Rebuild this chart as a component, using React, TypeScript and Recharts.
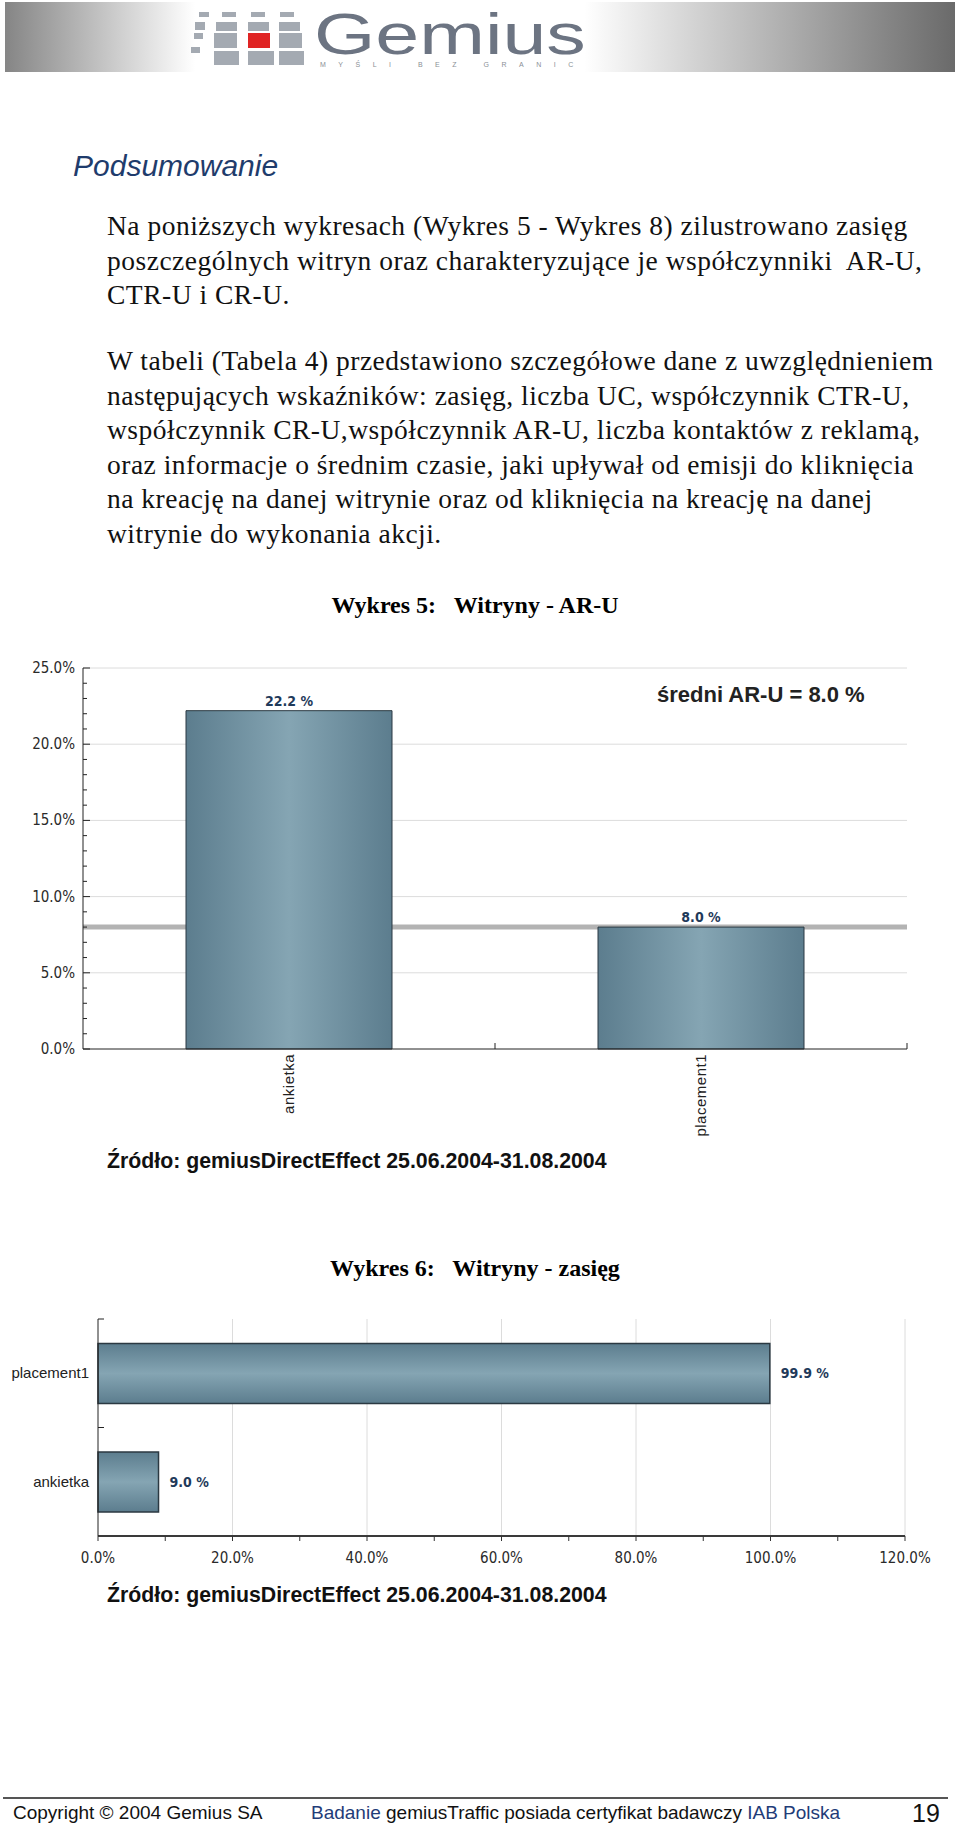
import React from 'react';
import { BarChart, Bar, XAxis, YAxis, CartesianGrid, LabelList } from 'recharts';

// Wykres 5: Witryny - AR-U
const aruSites = ['ankietka', 'placement1'];
const aruValues = [22.2, 8.0];
const aruAverage = 8.0;
const aruMajorTicks = [0, 5, 10, 15, 20, 25];
const aruMinorTicks = [1, 2, 3, 4, 6, 7, 8, 9, 11, 12, 13, 14, 16, 17, 18, 19, 21, 22, 23, 24];

// Wykres 6: Witryny - zasięg
const reachSites = ['placement1', 'ankietka'];
const reachValues = [99.9, 9.0];
const reachMajorTicks = [0, 20, 40, 60, 80, 100, 120];
const reachMinorTicks = [10, 30, 50, 70, 90, 110];

const aruData = aruSites.map((site, i) => ({ site, value: aruValues[i] }));
const reachData = reachSites.map((site, i) => ({ site, value: reachValues[i] }));

const para1 = [
  'Na poniższych wykresach (Wykres 5 - Wykres 8) zilustrowano zasięg',
  'poszczególnych witryn oraz charakteryzujące je współczynniki  AR-U,',
  'CTR-U i CR-U.',
];
const para2 = [
  'W tabeli (Tabela 4) przedstawiono szczegółowe dane z uwzględnieniem',
  'następujących wskaźników: zasięg, liczba UC, współczynnik CTR-U,',
  'współczynnik CR-U,współczynnik AR-U, liczba kontaktów z reklamą,',
  'oraz informacje o średnim czasie, jaki upływał od emisji do kliknięcia',
  'na kreację na danej witrynie oraz od kliknięcia na kreację na danej',
  'witrynie do wykonania akcji.',
];
const sourceText = 'Źródło: gemiusDirectEffect 25.06.2004-31.08.2004';

const SERIF = '"Liberation Serif", "Times New Roman", serif';
const SANS = '"Liberation Sans", Arial, sans-serif';
const COND = '"DejaVu Sans Condensed", "DejaVu Sans", sans-serif';
const LABEL_BLUE = '#1f3a5a';

const pct = (v: number) => `${v.toFixed(1)}%`;
const pctSp = (v: number) => `${Number(v).toFixed(1)} %`;

// logo blocks [x, y, w, h]
const logoBlocks = [
  [199, 12, 10, 5], [222, 12, 14, 5], [251, 12, 14, 5], [280, 12, 14, 5],
  [195, 22, 10, 8], [216, 22, 21, 9], [248, 22, 21, 9], [279, 22, 21, 9],
  [194, 33, 9, 6], [214, 33, 23, 15], [279, 33, 23, 15],
  [191, 47, 9, 6], [214, 51, 25, 14], [248, 51, 26, 14], [279, 51, 25, 14],
];

function AruYTick(props: any) {
  const { x, y, payload } = props;
  const major = payload.value % 5 === 0;
  return (
    <g>
      <line x1={x} x2={x + (major ? 7 : 4)} y1={y} y2={y} stroke="#222" />
      {major && (
        <text x={x - 8} y={y} dy={5} textAnchor="end" fill="#2a2a2a" fontSize={15} fontFamily={COND}>
          {pct(payload.value)}
        </text>
      )}
    </g>
  );
}

function AruXTick(props: any) {
  const { x, y, payload } = props;
  const edge = x + (payload.offset ?? 0);
  return (
    <g>
      <line x1={edge} x2={edge} y1={y} y2={y - 6} stroke="#222" />
      <text
        transform={`translate(${x},${y + 5}) rotate(-90)`}
        dy={5}
        textAnchor="end"
        fill="#222"
        fontSize={15}
        fontFamily={SANS}
        letterSpacing={0.5}
      >
        {payload.value}
      </text>
    </g>
  );
}

function ReachXTick(props: any) {
  const { x, y, payload } = props;
  const major = payload.value % 20 === 0;
  return (
    <g>
      <line x1={x} x2={x} y1={y} y2={y + 5} stroke="#333" />
      {major && (
        <text x={x} y={y + 27} textAnchor="middle" fill="#2a2a2a" fontSize={15} fontFamily={COND}>
          {pct(payload.value)}
        </text>
      )}
    </g>
  );
}

function ReachYTick(props: any) {
  const { x, y, payload } = props;
  const edge = y - (payload.offset ?? 0);
  return (
    <g>
      <line x1={x} x2={x + 6} y1={edge} y2={edge} stroke="#222" />
      <text x={x - 9} y={y} dy={5} textAnchor="end" fill="#222" fontSize={15} fontFamily={SANS}>
        {payload.value}
      </text>
    </g>
  );
}

function AruChart() {
  return (
    <BarChart
      width={960}
      height={520}
      data={aruData}
      margin={{ top: 28, right: 53, bottom: 41, left: 0 }}
      barCategoryGap="25%"
    >
      <defs>
        <linearGradient id="aruFill" x1="0" y1="0" x2="1" y2="0">
          <stop offset="0%" stopColor="#5c7d8e" />
          <stop offset="50%" stopColor="#85a5b3" />
          <stop offset="100%" stopColor="#5c7d8e" />
        </linearGradient>
      </defs>
      <CartesianGrid vertical={false} horizontalValues={aruMajorTicks.slice(1)} stroke="#dcdcdc" />
      {/* average line, kept in the grid layer so the bars cover it */}
      <CartesianGrid vertical={false} horizontalValues={[aruAverage]} stroke="#b3b3b3" strokeWidth={5} />
      <XAxis
        dataKey="site"
        type="category"
        height={70}
        interval={0}
        tickSize={0}
        tickMargin={0}
        tickLine={false}
        axisLine={{ stroke: '#222' }}
        tick={(p: any) => <AruXTick {...p} />}
      />
      <YAxis
        type="number"
        domain={[0, 25]}
        ticks={[...aruMajorTicks, ...aruMinorTicks].sort((a, b) => a - b)}
        interval={0}
        width={83}
        tickSize={0}
        tickMargin={0}
        tickLine={false}
        axisLine={{ stroke: '#222' }}
        tick={(p: any) => <AruYTick {...p} />}
      />
      <Bar dataKey="value" fill="url(#aruFill)" stroke="#2b3942" strokeWidth={1} isAnimationActive={false}>
        <LabelList
          dataKey="value"
          position="top"
          offset={5}
          formatter={(v: any) => pctSp(v)}
          fill={LABEL_BLUE}
          fontSize={14}
          fontWeight="bold"
          fontFamily={COND}
        />
      </Bar>
    </BarChart>
  );
}

function ReachChart() {
  return (
    <BarChart
      width={960}
      height={290}
      data={reachData}
      layout="vertical"
      margin={{ top: 29, right: 55, bottom: 4, left: 0 }}
      barCategoryGap="22.5%"
    >
      <defs>
        <linearGradient id="reachFill" x1="0" y1="0" x2="0" y2="1">
          <stop offset="0%" stopColor="#5c7d8e" />
          <stop offset="50%" stopColor="#85a5b3" />
          <stop offset="100%" stopColor="#5c7d8e" />
        </linearGradient>
      </defs>
      <CartesianGrid horizontal={false} verticalValues={reachMajorTicks.slice(1)} stroke="#dcdcdc" />
      <XAxis
        type="number"
        domain={[0, 120]}
        ticks={[...reachMajorTicks, ...reachMinorTicks].sort((a, b) => a - b)}
        interval={0}
        height={40}
        tickSize={0}
        tickMargin={0}
        tickLine={false}
        axisLine={{ stroke: '#3a3a3a', strokeWidth: 2 }}
        tick={(p: any) => <ReachXTick {...p} />}
      />
      <YAxis
        type="category"
        dataKey="site"
        width={98}
        interval={0}
        tickSize={0}
        tickMargin={0}
        tickLine={false}
        axisLine={{ stroke: '#222' }}
        tick={(p: any) => <ReachYTick {...p} />}
      />
      <Bar dataKey="value" fill="url(#reachFill)" stroke="#2b3942" strokeWidth={1.5} isAnimationActive={false}>
        <LabelList
          dataKey="value"
          position="right"
          offset={11}
          formatter={(v: any) => pctSp(v)}
          fill={LABEL_BLUE}
          fontSize={14}
          fontWeight="bold"
          fontFamily={COND}
        />
      </Bar>
    </BarChart>
  );
}

const abs = (left: number, top: number, extra: React.CSSProperties = {}): React.CSSProperties => ({
  position: 'absolute',
  left,
  top,
  whiteSpace: 'pre',
  ...extra,
});

export default function App() {
  return (
    <div style={{ position: 'absolute', left: 0, top: 0, width: 960, height: 1830, background: '#fff', overflow: 'hidden' }}>
      {/* header banner */}
      <div
        style={{
          position: 'absolute',
          left: 5,
          top: 2,
          width: 950,
          height: 70,
          background: 'linear-gradient(to right, #858585 0%, #ffffff 20%, #ffffff 61%, #6a6a6a 100%)',
        }}
      />
      {logoBlocks.map(([x, y, w, h], i) => (
        <div key={i} style={{ position: 'absolute', left: x, top: y, width: w, height: h, background: '#a4aab2' }} />
      ))}
      <div style={{ position: 'absolute', left: 248, top: 33, width: 22, height: 15, background: '#e02424' }} />
      <div
        style={abs(314, 11, {
          fontFamily: SANS,
          fontSize: 58,
          color: '#6c7482',
          transform: 'scaleX(1.36)',
          transformOrigin: 'left top',
          lineHeight: '46px',
        })}
      >
        Gemius
      </div>
      <div style={abs(320, 61, { fontFamily: SANS, fontSize: 7, color: '#8a8f96', letterSpacing: 12.5, lineHeight: '8px' })}>
        MYŚLI BEZ GRANIC
      </div>

      {/* heading and text */}
      <div style={abs(73, 148, { fontFamily: SANS, fontStyle: 'italic', fontSize: 30, color: '#1f3c6c', lineHeight: '36px' })}>
        Podsumowanie
      </div>
      <div style={abs(107, 209, { fontFamily: SERIF, fontSize: 27.5, letterSpacing: 0.5, lineHeight: '34.5px', color: '#111' })}>
        {para1.map((l, i) => (
          <div key={i}>{l}</div>
        ))}
      </div>
      <div style={abs(107, 344, { fontFamily: SERIF, fontSize: 27.5, letterSpacing: 0.5, lineHeight: '34.6px', color: '#111' })}>
        {para2.map((l, i) => (
          <div key={i}>{l}</div>
        ))}
      </div>

      {/* Wykres 5 */}
      <div style={abs(0, 590, { width: 950, textAlign: 'center', fontFamily: SERIF, fontWeight: 'bold', fontSize: 24, lineHeight: '30px' })}>
        {'Wykres 5:   Witryny - AR-U'}
      </div>
      <div style={{ position: 'absolute', left: 0, top: 640 }}>
        <AruChart />
      </div>
      <div style={abs(657, 681, { fontFamily: SANS, fontWeight: 'bold', fontSize: 22, color: '#222', lineHeight: '28px' })}>
        {`średni AR-U = ${aruAverage.toFixed(1)} %`}
      </div>
      <div style={abs(107, 1147, { fontFamily: SANS, fontWeight: 'bold', fontSize: 21.3, lineHeight: '28px', color: '#111' })}>
        {sourceText}
      </div>

      {/* Wykres 6 */}
      <div style={abs(0, 1253, { width: 950, textAlign: 'center', fontFamily: SERIF, fontWeight: 'bold', fontSize: 24, lineHeight: '30px' })}>
        {'Wykres 6:   Witryny - zasięg'}
      </div>
      <div style={{ position: 'absolute', left: 0, top: 1290 }}>
        <ReachChart />
      </div>
      <div style={abs(107, 1581, { fontFamily: SANS, fontWeight: 'bold', fontSize: 21.3, lineHeight: '28px', color: '#111' })}>
        {sourceText}
      </div>

      {/* footer */}
      <div style={{ position: 'absolute', left: 3, top: 1797, width: 945, height: 2, background: '#555' }} />
      <div style={abs(13, 1801, { fontFamily: SANS, fontSize: 19, lineHeight: '24px', color: '#111' })}>
        Copyright © 2004 Gemius SA
      </div>
      <div style={abs(311, 1801, { fontFamily: SANS, fontSize: 19, lineHeight: '24px', color: '#111' })}>
        <span style={{ color: '#1f3c78' }}>Badanie</span> gemiusTraffic posiada certyfikat badawczy{' '}
        <span style={{ color: '#1f3c78' }}>IAB Polska</span>
      </div>
      <div style={abs(912, 1798, { fontFamily: SANS, fontSize: 25, lineHeight: '30px', color: '#111' })}>19</div>
    </div>
  );
}
